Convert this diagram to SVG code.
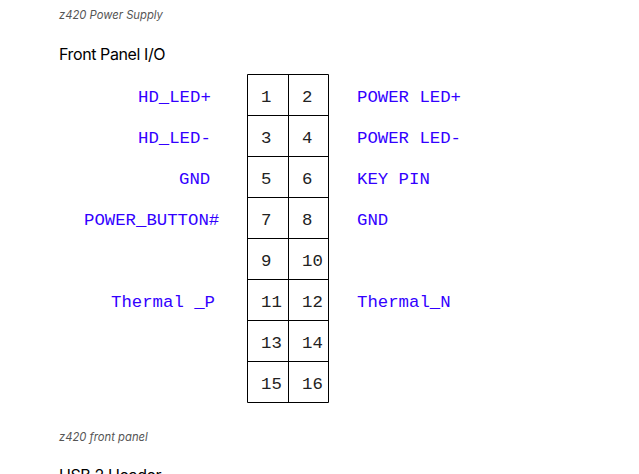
<svg xmlns="http://www.w3.org/2000/svg" width="639" height="474" viewBox="0 0 639 474">
<style>
text{white-space:pre}
.cap{font:italic 11.25px Inter,"Liberation Sans",sans-serif;fill:#555}
.h{font:16px Inter,"Liberation Sans",sans-serif;letter-spacing:-.4px;fill:#000}
.l{font:17.33px "Liberation Mono",monospace;fill:#3300ff}
.n{font:17.33px "Liberation Mono",monospace;fill:#222}
.g{fill:none;stroke:#000;stroke-width:1}
</style>
<rect width="639" height="474" fill="#fff"/>
<text class="cap" x="59" y="19">z420 Power Supply</text>
<text class="h" x="59" y="60">Front Panel I/O</text>
<g id="pin-grid">
<path class="g" d="M247.5 74.5H328.5V402.5H247.5ZM288.5 74.5V402.5M247.5 115.5H328.5M247.5 156.5H328.5M247.5 197.5H328.5M247.5 238.5H328.5M247.5 279.5H328.5M247.5 320.5H328.5M247.5 361.5H328.5"/>
</g>
<g id="pin-numbers">
<text class="n" x="261" y="102">1</text><text class="n" x="302" y="102">2</text>
<text class="n" x="261" y="143">3</text><text class="n" x="302" y="143">4</text>
<text class="n" x="261" y="184">5</text><text class="n" x="302" y="184">6</text>
<text class="n" x="261" y="225">7</text><text class="n" x="302" y="225">8</text>
<text class="n" x="261" y="266">9</text><text class="n" x="302" y="266">10</text>
<text class="n" x="261" y="307">11</text><text class="n" x="302" y="307">12</text>
<text class="n" x="261" y="348">13</text><text class="n" x="302" y="348">14</text>
<text class="n" x="261" y="389">15</text><text class="n" x="302" y="389">16</text>
</g>
<g id="left-labels">
<text class="l" x="138" y="102">HD_LED+</text>
<text class="l" x="138" y="143">HD_LED-</text>
<text class="l" x="179" y="184">GND</text>
<text class="l" x="84" y="225">POWER_BUTTON#</text>
<text class="l" x="111" y="307">Thermal _P</text>
</g>
<g id="right-labels">
<text class="l" x="357" y="102">POWER LED+</text>
<text class="l" x="357" y="143">POWER LED-</text>
<text class="l" x="357" y="184">KEY PIN</text>
<text class="l" x="357" y="225">GND</text>
<text class="l" x="357" y="307">Thermal_N</text>
</g>
<text class="cap" x="59" y="441">z420 front panel</text>
<text class="h" x="59" y="481">USB 2 Header</text>
</svg>
